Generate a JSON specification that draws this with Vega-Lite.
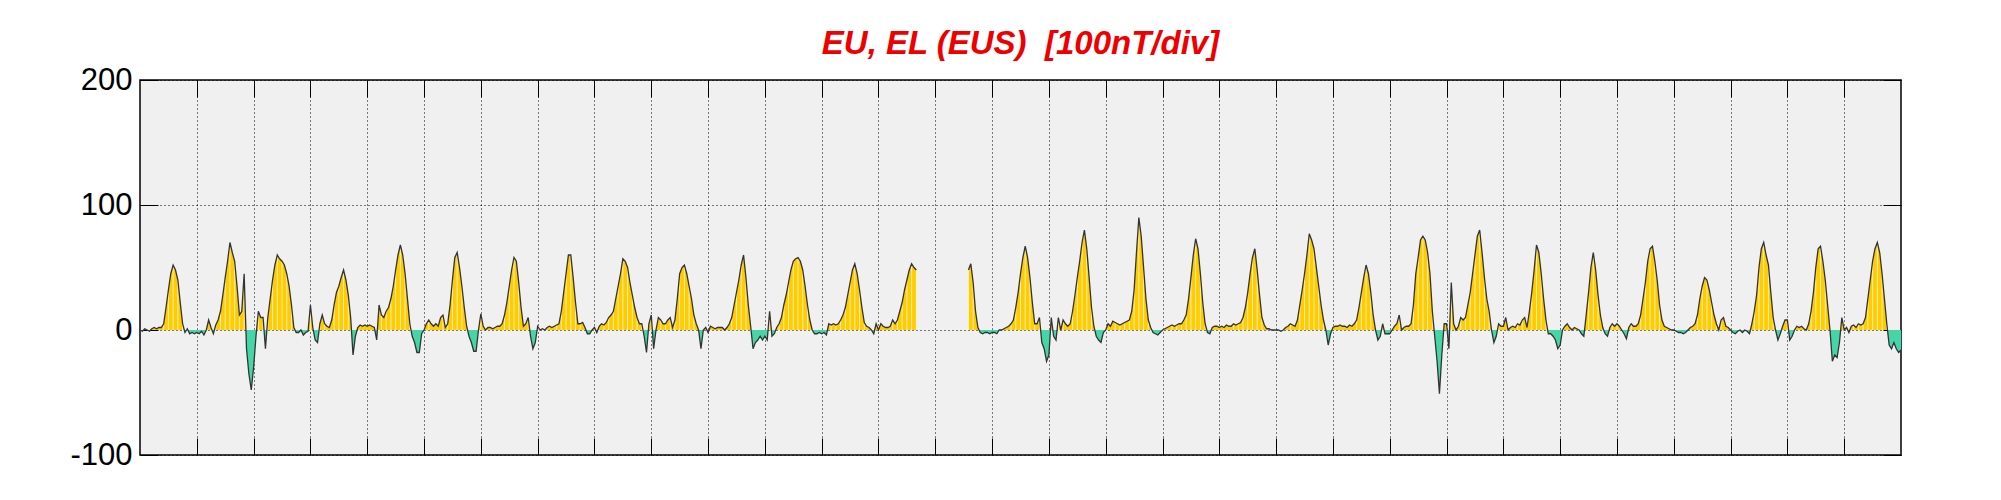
{
"$schema": "https://vega.github.io/schema/vega-lite/v6.json",
"width": 1761, "height": 375,
"autosize": {"type": "none"},
"padding": {"left": 140, "top": 80, "right": 100, "bottom": 45},
"background": "white",
"title": {"text": "EU, EL (EUS) \u00a0[100nT/div]", "font": "Liberation Sans", "fontSize": 33, "fontWeight": "bold", "fontStyle": "italic", "color": "#ee0000", "anchor": "middle", "baseline": "alphabetic", "offset": 22, "dy": 45},
"config": {
  "view": {"fill": "#f0f0f0", "stroke": "#000", "strokeWidth": 1.5},
  "axis": {"domain": false, "labelFont": "Liberation Sans", "labelFontSize": 31, "labelColor": "#000", "tickColor": "#000", "tickWidth": 1, "gridColor": "#000", "gridOpacity": 1, "gridDash": [1, 3], "gridWidth": 1, "title": null}
},
"data": {"values": [
{"h":0,"v":0},{"h":1,"v":-1},{"h":2,"v":1},{"h":3,"v":0},{"h":4,"v":-1},{"h":5,"v":1},{"h":6,"v":2},{"h":7,"v":1},{"h":8,"v":2},{"h":9,"v":2},{"h":10,"v":5},{"h":11,"v":18},{"h":12,"v":32},{"h":13,"v":45},{"h":14,"v":52},{"h":15,"v":48},{"h":16,"v":40},{"h":17,"v":22},{"h":18,"v":5},{"h":19,"v":-2},{"h":20,"v":1},{"h":21,"v":-3},{"h":22,"v":-2},{"h":23,"v":-3},
{"h":24,"v":-2},{"h":25,"v":-3},{"h":26,"v":-1},{"h":27,"v":-4},{"h":28,"v":0},{"h":29,"v":8},{"h":30,"v":2},{"h":31,"v":-3},{"h":32,"v":4},{"h":33,"v":8},{"h":34,"v":15},{"h":35,"v":28},{"h":36,"v":42},{"h":37,"v":55},{"h":38,"v":70},{"h":39,"v":62},{"h":40,"v":55},{"h":41,"v":35},{"h":42,"v":12},{"h":43,"v":15},{"h":44,"v":45},{"h":45,"v":-15},{"h":46,"v":-35},{"h":47,"v":-48},
{"h":48,"v":-30},{"h":49,"v":-5},{"h":50,"v":15},{"h":51,"v":10},{"h":52,"v":10},{"h":53,"v":-15},{"h":54,"v":10},{"h":55,"v":25},{"h":56,"v":40},{"h":57,"v":52},{"h":58,"v":60},{"h":59,"v":57},{"h":60,"v":55},{"h":61,"v":52},{"h":62,"v":45},{"h":63,"v":35},{"h":64,"v":20},{"h":65,"v":2},{"h":66,"v":-2},{"h":67,"v":-2},{"h":68,"v":0},{"h":69,"v":-4},{"h":70,"v":-2},{"h":71,"v":-1},
{"h":72,"v":20},{"h":73,"v":2},{"h":74,"v":-8},{"h":75,"v":-10},{"h":76,"v":5},{"h":77,"v":12},{"h":78,"v":5},{"h":79,"v":3},{"h":80,"v":2},{"h":81,"v":8},{"h":82,"v":20},{"h":83,"v":30},{"h":84,"v":35},{"h":85,"v":42},{"h":86,"v":48},{"h":87,"v":40},{"h":88,"v":28},{"h":89,"v":10},{"h":90,"v":-20},{"h":91,"v":-5},{"h":92,"v":2},{"h":93,"v":4},{"h":94,"v":3},{"h":95,"v":4},
{"h":96,"v":3},{"h":97,"v":4},{"h":98,"v":3},{"h":99,"v":2},{"h":100,"v":-8},{"h":101,"v":20},{"h":102,"v":12},{"h":103,"v":10},{"h":104,"v":15},{"h":105,"v":18},{"h":106,"v":25},{"h":107,"v":35},{"h":108,"v":48},{"h":109,"v":60},{"h":110,"v":68},{"h":111,"v":60},{"h":112,"v":45},{"h":113,"v":25},{"h":114,"v":5},{"h":115,"v":-5},{"h":116,"v":-10},{"h":117,"v":-18},{"h":118,"v":-18},{"h":119,"v":-3},
{"h":120,"v":0},{"h":121,"v":5},{"h":122,"v":8},{"h":123,"v":5},{"h":124,"v":3},{"h":125,"v":5},{"h":126,"v":3},{"h":127,"v":10},{"h":128,"v":12},{"h":129,"v":2},{"h":130,"v":5},{"h":131,"v":20},{"h":132,"v":40},{"h":133,"v":58},{"h":134,"v":62},{"h":135,"v":50},{"h":136,"v":35},{"h":137,"v":18},{"h":138,"v":3},{"h":139,"v":-5},{"h":140,"v":-10},{"h":141,"v":-17},{"h":142,"v":-17},{"h":143,"v":0},
{"h":144,"v":13},{"h":145,"v":3},{"h":146,"v":0},{"h":147,"v":2},{"h":148,"v":2},{"h":149,"v":1},{"h":150,"v":2},{"h":151,"v":3},{"h":152,"v":3},{"h":153,"v":5},{"h":154,"v":12},{"h":155,"v":22},{"h":156,"v":35},{"h":157,"v":48},{"h":158,"v":58},{"h":159,"v":55},{"h":160,"v":38},{"h":161,"v":18},{"h":162,"v":3},{"h":163,"v":5},{"h":164,"v":10},{"h":165,"v":-5},{"h":166,"v":-15},{"h":167,"v":-10},
{"h":168,"v":3},{"h":169,"v":0},{"h":170,"v":1},{"h":171,"v":0},{"h":172,"v":2},{"h":173,"v":3},{"h":174,"v":2},{"h":175,"v":3},{"h":176,"v":4},{"h":177,"v":5},{"h":178,"v":15},{"h":179,"v":30},{"h":180,"v":45},{"h":181,"v":60},{"h":182,"v":60},{"h":183,"v":42},{"h":184,"v":22},{"h":185,"v":5},{"h":186,"v":5},{"h":187,"v":6},{"h":188,"v":2},{"h":189,"v":-3},{"h":190,"v":-3},{"h":191,"v":0},
{"h":192,"v":2},{"h":193,"v":-2},{"h":194,"v":3},{"h":195,"v":5},{"h":196,"v":4},{"h":197,"v":6},{"h":198,"v":10},{"h":199,"v":12},{"h":200,"v":15},{"h":201,"v":25},{"h":202,"v":35},{"h":203,"v":45},{"h":204,"v":57},{"h":205,"v":55},{"h":206,"v":50},{"h":207,"v":38},{"h":208,"v":28},{"h":209,"v":18},{"h":210,"v":10},{"h":211,"v":5},{"h":212,"v":5},{"h":213,"v":-5},{"h":214,"v":-18},{"h":215,"v":5},
{"h":216,"v":12},{"h":217,"v":-15},{"h":218,"v":0},{"h":219,"v":10},{"h":220,"v":8},{"h":221,"v":5},{"h":222,"v":5},{"h":223,"v":8},{"h":224,"v":10},{"h":225,"v":2},{"h":226,"v":8},{"h":227,"v":25},{"h":228,"v":45},{"h":229,"v":50},{"h":230,"v":52},{"h":231,"v":45},{"h":232,"v":35},{"h":233,"v":25},{"h":234,"v":12},{"h":235,"v":5},{"h":236,"v":0},{"h":237,"v":-15},{"h":238,"v":0},{"h":239,"v":2},
{"h":240,"v":-2},{"h":241,"v":3},{"h":242,"v":2},{"h":243,"v":1},{"h":244,"v":2},{"h":245,"v":2},{"h":246,"v":2},{"h":247,"v":0},{"h":248,"v":2},{"h":249,"v":5},{"h":250,"v":10},{"h":251,"v":20},{"h":252,"v":30},{"h":253,"v":40},{"h":254,"v":52},{"h":255,"v":60},{"h":256,"v":42},{"h":257,"v":20},{"h":258,"v":3},{"h":259,"v":-15},{"h":260,"v":-10},{"h":261,"v":-8},{"h":262,"v":-5},{"h":263,"v":-8},
{"h":264,"v":-5},{"h":265,"v":-8},{"h":266,"v":15},{"h":267,"v":-5},{"h":268,"v":-3},{"h":269,"v":2},{"h":270,"v":5},{"h":271,"v":10},{"h":272,"v":20},{"h":273,"v":28},{"h":274,"v":38},{"h":275,"v":48},{"h":276,"v":55},{"h":277,"v":57},{"h":278,"v":58},{"h":279,"v":55},{"h":280,"v":48},{"h":281,"v":35},{"h":282,"v":20},{"h":283,"v":8},{"h":284,"v":0},{"h":285,"v":-3},{"h":286,"v":-3},{"h":287,"v":-2},
{"h":288,"v":-3},{"h":289,"v":-2},{"h":290,"v":-4},{"h":291,"v":5},{"h":292,"v":4},{"h":293,"v":5},{"h":294,"v":4},{"h":295,"v":5},{"h":296,"v":8},{"h":297,"v":12},{"h":298,"v":18},{"h":299,"v":28},{"h":300,"v":38},{"h":301,"v":48},{"h":302,"v":53},{"h":303,"v":45},{"h":304,"v":32},{"h":305,"v":18},{"h":306,"v":6},{"h":307,"v":3},{"h":308,"v":2},{"h":309,"v":0},{"h":310,"v":-3},{"h":311,"v":5},
{"h":312,"v":0},{"h":313,"v":5},{"h":314,"v":3},{"h":315,"v":2},{"h":316,"v":2},{"h":317,"v":3},{"h":318,"v":8},{"h":319,"v":5},{"h":320,"v":8},{"h":321,"v":15},{"h":322,"v":22},{"h":323,"v":32},{"h":324,"v":40},{"h":325,"v":48},{"h":326,"v":53},{"h":327,"v":50},{"h":328,"v":48},{"h":329,"v":null},{"h":330,"v":null},{"h":331,"v":null},{"h":332,"v":null},{"h":333,"v":null},{"h":334,"v":null},{"h":335,"v":null},
{"h":336,"v":null},{"h":337,"v":null},{"h":338,"v":null},{"h":339,"v":null},{"h":340,"v":null},{"h":341,"v":null},{"h":342,"v":null},{"h":343,"v":null},{"h":344,"v":null},{"h":345,"v":null},{"h":346,"v":null},{"h":347,"v":null},{"h":348,"v":null},{"h":349,"v":null},{"h":350,"v":48},{"h":351,"v":53},{"h":352,"v":38},{"h":353,"v":15},{"h":354,"v":2},{"h":355,"v":-2},{"h":356,"v":-3},{"h":357,"v":-2},{"h":358,"v":-2},{"h":359,"v":-3},
{"h":360,"v":-2},{"h":361,"v":-2},{"h":362,"v":-3},{"h":363,"v":0},{"h":364,"v":0},{"h":365,"v":1},{"h":366,"v":2},{"h":367,"v":3},{"h":368,"v":5},{"h":369,"v":8},{"h":370,"v":18},{"h":371,"v":30},{"h":372,"v":45},{"h":373,"v":58},{"h":374,"v":67},{"h":375,"v":58},{"h":376,"v":42},{"h":377,"v":22},{"h":378,"v":5},{"h":379,"v":5},{"h":380,"v":10},{"h":381,"v":-10},{"h":382,"v":-15},{"h":383,"v":-25},
{"h":384,"v":-20},{"h":385,"v":10},{"h":386,"v":-5},{"h":387,"v":-8},{"h":388,"v":10},{"h":389,"v":0},{"h":390,"v":8},{"h":391,"v":5},{"h":392,"v":3},{"h":393,"v":5},{"h":394,"v":15},{"h":395,"v":28},{"h":396,"v":42},{"h":397,"v":55},{"h":398,"v":70},{"h":399,"v":80},{"h":400,"v":65},{"h":401,"v":42},{"h":402,"v":18},{"h":403,"v":3},{"h":404,"v":-5},{"h":405,"v":-8},{"h":406,"v":-10},{"h":407,"v":-2},
{"h":408,"v":0},{"h":409,"v":5},{"h":410,"v":3},{"h":411,"v":7},{"h":412,"v":6},{"h":413,"v":5},{"h":414,"v":4},{"h":415,"v":5},{"h":416,"v":6},{"h":417,"v":7},{"h":418,"v":8},{"h":419,"v":15},{"h":420,"v":32},{"h":421,"v":62},{"h":422,"v":90},{"h":423,"v":75},{"h":424,"v":50},{"h":425,"v":25},{"h":426,"v":8},{"h":427,"v":2},{"h":428,"v":-2},{"h":429,"v":-3},{"h":430,"v":-4},{"h":431,"v":-2},
{"h":432,"v":0},{"h":433,"v":1},{"h":434,"v":2},{"h":435,"v":3},{"h":436,"v":4},{"h":437,"v":3},{"h":438,"v":4},{"h":439,"v":5},{"h":440,"v":5},{"h":441,"v":8},{"h":442,"v":12},{"h":443,"v":25},{"h":444,"v":42},{"h":445,"v":60},{"h":446,"v":73},{"h":447,"v":65},{"h":448,"v":45},{"h":449,"v":22},{"h":450,"v":5},{"h":451,"v":-2},{"h":452,"v":-3},{"h":453,"v":2},{"h":454,"v":3},{"h":455,"v":3},
{"h":456,"v":2},{"h":457,"v":3},{"h":458,"v":2},{"h":459,"v":4},{"h":460,"v":3},{"h":461,"v":3},{"h":462,"v":5},{"h":463,"v":4},{"h":464,"v":5},{"h":465,"v":6},{"h":466,"v":10},{"h":467,"v":18},{"h":468,"v":30},{"h":469,"v":45},{"h":470,"v":58},{"h":471,"v":65},{"h":472,"v":48},{"h":473,"v":28},{"h":474,"v":10},{"h":475,"v":4},{"h":476,"v":1},{"h":477,"v":1},{"h":478,"v":0},{"h":479,"v":0},
{"h":480,"v":0},{"h":481,"v":0},{"h":482,"v":-1},{"h":483,"v":0},{"h":484,"v":2},{"h":485,"v":3},{"h":486,"v":5},{"h":487,"v":4},{"h":488,"v":3},{"h":489,"v":8},{"h":490,"v":20},{"h":491,"v":32},{"h":492,"v":45},{"h":493,"v":60},{"h":494,"v":77},{"h":495,"v":72},{"h":496,"v":65},{"h":497,"v":50},{"h":498,"v":35},{"h":499,"v":20},{"h":500,"v":8},{"h":501,"v":0},{"h":502,"v":-12},{"h":503,"v":-3},
{"h":504,"v":2},{"h":505,"v":3},{"h":506,"v":3},{"h":507,"v":4},{"h":508,"v":3},{"h":509,"v":3},{"h":510,"v":2},{"h":511,"v":4},{"h":512,"v":3},{"h":513,"v":5},{"h":514,"v":8},{"h":515,"v":18},{"h":516,"v":30},{"h":517,"v":42},{"h":518,"v":52},{"h":519,"v":45},{"h":520,"v":30},{"h":521,"v":12},{"h":522,"v":0},{"h":523,"v":-8},{"h":524,"v":-5},{"h":525,"v":5},{"h":526,"v":-3},{"h":527,"v":-3},
{"h":528,"v":-3},{"h":529,"v":0},{"h":530,"v":3},{"h":531,"v":5},{"h":532,"v":12},{"h":533,"v":0},{"h":534,"v":2},{"h":535,"v":3},{"h":536,"v":3},{"h":537,"v":5},{"h":538,"v":20},{"h":539,"v":45},{"h":540,"v":58},{"h":541,"v":72},{"h":542,"v":75},{"h":543,"v":72},{"h":544,"v":62},{"h":545,"v":45},{"h":546,"v":15},{"h":547,"v":-5},{"h":548,"v":-25},{"h":549,"v":-51},{"h":550,"v":-20},{"h":551,"v":5},
{"h":552,"v":5},{"h":553,"v":-15},{"h":554,"v":38},{"h":555,"v":5},{"h":556,"v":0},{"h":557,"v":3},{"h":558,"v":10},{"h":559,"v":8},{"h":560,"v":10},{"h":561,"v":20},{"h":562,"v":30},{"h":563,"v":45},{"h":564,"v":60},{"h":565,"v":75},{"h":566,"v":80},{"h":567,"v":62},{"h":568,"v":42},{"h":569,"v":25},{"h":570,"v":15},{"h":571,"v":0},{"h":572,"v":-10},{"h":573,"v":-5},{"h":574,"v":5},{"h":575,"v":3},
{"h":576,"v":3},{"h":577,"v":10},{"h":578,"v":0},{"h":579,"v":2},{"h":580,"v":3},{"h":581,"v":2},{"h":582,"v":5},{"h":583,"v":4},{"h":584,"v":8},{"h":585,"v":10},{"h":586,"v":2},{"h":587,"v":15},{"h":588,"v":30},{"h":589,"v":48},{"h":590,"v":68},{"h":591,"v":62},{"h":592,"v":45},{"h":593,"v":25},{"h":594,"v":8},{"h":595,"v":-3},{"h":596,"v":-3},{"h":597,"v":-5},{"h":598,"v":-8},{"h":599,"v":-15},
{"h":600,"v":-12},{"h":601,"v":0},{"h":602,"v":3},{"h":603,"v":5},{"h":604,"v":2},{"h":605,"v":0},{"h":606,"v":2},{"h":607,"v":1},{"h":608,"v":0},{"h":609,"v":-3},{"h":610,"v":-5},{"h":611,"v":12},{"h":612,"v":30},{"h":613,"v":50},{"h":614,"v":62},{"h":615,"v":48},{"h":616,"v":28},{"h":617,"v":12},{"h":618,"v":2},{"h":619,"v":-3},{"h":620,"v":-5},{"h":621,"v":2},{"h":622,"v":5},{"h":623,"v":3},
{"h":624,"v":5},{"h":625,"v":3},{"h":626,"v":0},{"h":627,"v":-3},{"h":628,"v":-7},{"h":629,"v":2},{"h":630,"v":5},{"h":631,"v":3},{"h":632,"v":3},{"h":633,"v":5},{"h":634,"v":12},{"h":635,"v":25},{"h":636,"v":38},{"h":637,"v":55},{"h":638,"v":65},{"h":639,"v":67},{"h":640,"v":55},{"h":641,"v":40},{"h":642,"v":20},{"h":643,"v":8},{"h":644,"v":3},{"h":645,"v":2},{"h":646,"v":1},{"h":647,"v":0},
{"h":648,"v":0},{"h":649,"v":-1},{"h":650,"v":-2},{"h":651,"v":-2},{"h":652,"v":-3},{"h":653,"v":-2},{"h":654,"v":0},{"h":655,"v":2},{"h":656,"v":3},{"h":657,"v":5},{"h":658,"v":12},{"h":659,"v":25},{"h":660,"v":35},{"h":661,"v":42},{"h":662,"v":40},{"h":663,"v":32},{"h":664,"v":22},{"h":665,"v":12},{"h":666,"v":5},{"h":667,"v":0},{"h":668,"v":8},{"h":669,"v":10},{"h":670,"v":3},{"h":671,"v":2},
{"h":672,"v":0},{"h":673,"v":-2},{"h":674,"v":-3},{"h":675,"v":-1},{"h":676,"v":0},{"h":677,"v":-2},{"h":678,"v":0},{"h":679,"v":-1},{"h":680,"v":-3},{"h":681,"v":5},{"h":682,"v":15},{"h":683,"v":28},{"h":684,"v":50},{"h":685,"v":65},{"h":686,"v":70},{"h":687,"v":60},{"h":688,"v":52},{"h":689,"v":30},{"h":690,"v":10},{"h":691,"v":0},{"h":692,"v":-8},{"h":693,"v":-3},{"h":694,"v":3},{"h":695,"v":8},
{"h":696,"v":8},{"h":697,"v":-8},{"h":698,"v":-5},{"h":699,"v":0},{"h":700,"v":3},{"h":701,"v":2},{"h":702,"v":3},{"h":703,"v":1},{"h":704,"v":0},{"h":705,"v":5},{"h":706,"v":15},{"h":707,"v":30},{"h":708,"v":50},{"h":709,"v":65},{"h":710,"v":67},{"h":711,"v":55},{"h":712,"v":40},{"h":713,"v":20},{"h":714,"v":0},{"h":715,"v":-25},{"h":716,"v":-20},{"h":717,"v":-22},{"h":718,"v":-10},{"h":719,"v":10},
{"h":720,"v":0},{"h":721,"v":2},{"h":722,"v":-2},{"h":723,"v":3},{"h":724,"v":4},{"h":725,"v":2},{"h":726,"v":5},{"h":727,"v":4},{"h":728,"v":5},{"h":729,"v":10},{"h":730,"v":25},{"h":731,"v":40},{"h":732,"v":55},{"h":733,"v":65},{"h":734,"v":70},{"h":735,"v":62},{"h":736,"v":45},{"h":737,"v":25},{"h":738,"v":5},{"h":739,"v":-12},{"h":740,"v":-15},{"h":741,"v":-10},{"h":742,"v":-15},{"h":743,"v":-18},
{"h":744,"v":-16}
]},
"layer": [
  {
    "mark": {"type": "area", "interpolate": "linear", "color": {"gradient": "linear", "x1": 0, "y1": 0, "x2": 0, "y2": 1, "stops": [{"offset": 0, "color": "#ffcc00"}, {"offset": 0.6383, "color": "#ffcc00"}, {"offset": 0.6383, "color": "#44d6a6"}, {"offset": 1, "color": "#44d6a6"}]}},
    "encoding": {
      "x": {"field": "h", "type": "quantitative", "scale": {"domain": [0, 744], "nice": false, "zero": false},
            "axis": {"orient": "bottom", "values": [24,48,72,96,120,144,168,192,216,240,264,288,312,336,360,384,408,432,456,480,504,528,552,576,600,624,648,672,696,720], "labels": false, "tickSize": -17, "grid": true}},
      "y": {"field": "v", "type": "quantitative", "scale": {"domain": [-100, 200], "nice": false},
            "axis": {"orient": "left", "values": [-100, 0, 100, 200], "tickSize": -18, "labelPadding": 26, "labelExpr": "'' + datum.value", "grid": true}}
    }
  },
  {
    "transform": [{"filter": "datum.v != null && datum.v > 3 && datum.h % 2 == 0"}],
    "mark": {"type": "rule", "color": "#ffffff", "strokeWidth": 0.9, "opacity": 0.75},
    "encoding": {
      "x": {"field": "h", "type": "quantitative",
            "axis": {"orient": "top", "values": [24,48,72,96,120,144,168,192,216,240,264,288,312,336,360,384,408,432,456,480,504,528,552,576,600,624,648,672,696,720], "labels": false, "tickSize": -17, "grid": false}},
      "y": {"field": "v", "type": "quantitative",
            "axis": {"orient": "right", "values": [-100, 0, 100, 200], "labels": false, "tickSize": -18, "grid": false}},
      "y2": {"datum": 0}
    }
  },
  {
    "mark": {"type": "line", "color": "#333333", "strokeWidth": 1.3, "interpolate": "linear"},
    "encoding": {
      "x": {"field": "h", "type": "quantitative", "axis": null},
      "y": {"field": "v", "type": "quantitative", "axis": null}
    }
  }
],
"resolve": {"axis": {"x": "independent", "y": "independent"}}
}
